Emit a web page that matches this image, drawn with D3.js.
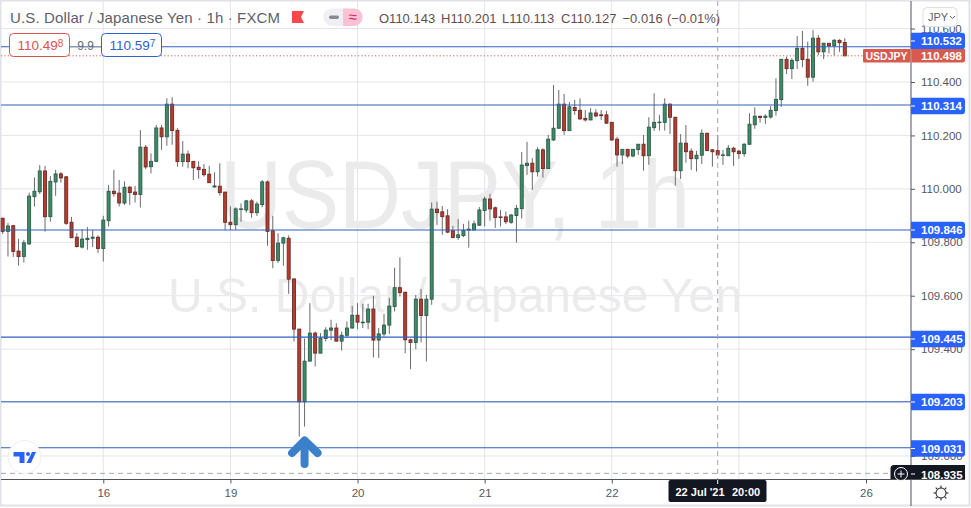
<!DOCTYPE html>
<html><head><meta charset="utf-8">
<script src="https://cdnjs.cloudflare.com/ajax/libs/d3/7.8.5/d3.min.js"></script>
<style>html,body{margin:0;padding:0;background:#fff;overflow:hidden}svg{display:block}text{font-family:"Liberation Sans",Arial,sans-serif}</style>
</head><body><svg id="c" width="971" height="508"></svg>
<script>
const opens=[109.890,109.841,109.862,109.767,109.747,109.794,109.971,109.989,110.067,109.896,
110.026,110.056,110.045,109.875,109.819,109.782,109.810,109.815,109.819,109.777,
109.881,109.991,109.984,109.947,110.006,109.988,109.979,110.156,110.083,110.103,
110.228,110.195,110.317,110.219,110.102,110.130,110.103,110.081,110.073,110.055,
110.007,110.010,109.988,109.875,109.866,109.924,109.921,109.955,109.911,109.941,
110.026,109.843,109.732,109.797,109.815,109.663,109.475,109.203,109.355,109.460,
109.385,109.440,109.471,109.479,109.430,109.452,109.479,109.527,109.500,109.501,
109.550,109.434,109.457,109.490,109.560,109.630,109.613,109.435,109.425,109.587,
109.526,109.587,109.924,109.914,109.899,109.843,109.818,109.825,109.846,109.846,
109.864,109.919,109.962,109.929,109.895,109.895,109.875,109.900,109.926,110.087,
110.096,110.064,110.146,110.076,110.183,110.227,110.317,110.218,110.305,110.294,
110.264,110.258,110.284,110.277,110.277,110.249,110.186,110.127,110.148,110.123,
110.147,110.167,110.124,110.229,110.248,110.249,110.317,110.268,110.068,110.171,
110.141,110.113,110.126,110.208,110.146,110.143,110.126,110.124,110.152,110.141,
110.132,110.167,110.240,110.272,110.267,110.269,110.293,110.334,110.485,110.450,
110.480,110.526,110.485,110.418,110.564,110.513,110.545,110.536,110.556,110.548];
const highs=[109.892,109.873,109.865,109.813,109.809,109.986,110.043,110.089,110.086,110.048,
110.071,110.063,110.048,109.895,109.834,109.849,109.857,109.846,109.826,109.899,
110.015,110.071,110.033,110.028,110.011,110.011,110.220,110.164,110.133,110.239,
110.239,110.339,110.343,110.227,110.179,110.143,110.103,110.103,110.093,110.086,
110.062,110.096,109.988,109.935,109.931,109.946,109.959,109.962,109.952,110.033,
110.031,109.899,109.834,109.821,109.826,109.663,109.476,109.440,109.572,109.466,
109.460,109.482,109.510,109.497,109.466,109.504,109.562,109.572,109.570,109.570,
109.600,109.479,109.532,109.592,109.705,109.744,109.615,109.439,109.603,109.625,
109.603,109.949,109.952,109.936,109.924,109.861,109.887,109.869,109.881,109.881,
109.932,109.971,109.981,109.934,109.921,109.915,109.906,109.940,110.138,110.176,
110.115,110.156,110.152,110.202,110.389,110.370,110.355,110.325,110.333,110.339,
110.295,110.302,110.298,110.295,110.292,110.249,110.195,110.149,110.149,110.149,
110.168,110.202,110.268,110.358,110.277,110.339,110.320,110.268,110.205,110.239,
110.152,110.142,110.223,110.210,110.148,110.201,110.146,110.164,110.158,110.146,
110.171,110.283,110.305,110.272,110.279,110.310,110.414,110.486,110.495,110.489,
110.572,110.591,110.551,110.595,110.576,110.547,110.546,110.561,110.560,110.564];
const lows=[109.831,109.747,109.745,109.713,109.724,109.790,109.934,109.981,109.840,109.877,
109.974,110.023,109.865,109.817,109.780,109.777,109.772,109.782,109.760,109.728,
109.859,109.971,109.934,109.940,109.940,109.949,109.930,110.074,110.058,110.102,
110.146,110.161,110.165,110.083,110.083,110.077,110.033,110.038,110.046,110.023,
110.005,109.975,109.846,109.846,109.846,109.877,109.911,109.892,109.899,109.931,
109.787,109.703,109.722,109.712,109.607,109.429,109.073,109.110,109.355,109.335,
109.385,109.429,109.433,109.429,109.395,109.444,109.477,109.475,109.479,109.475,
109.369,109.367,109.447,109.457,109.541,109.597,109.385,109.325,109.400,109.425,
109.354,109.566,109.865,109.828,109.834,109.814,109.809,109.819,109.780,109.845,
109.861,109.859,109.881,109.854,109.859,109.868,109.869,109.799,109.889,110.052,
109.996,110.046,110.042,110.075,110.179,110.224,110.202,110.217,110.277,110.258,
110.252,110.257,110.267,110.258,110.243,110.180,110.083,110.093,110.115,110.118,
110.127,110.068,110.090,110.217,110.218,110.218,110.205,110.012,110.037,110.098,
110.071,110.065,110.093,110.142,110.083,110.113,110.090,110.123,110.086,110.112,
110.121,110.164,110.225,110.248,110.243,110.263,110.274,110.307,110.430,110.411,
110.449,110.455,110.386,110.401,110.501,110.486,110.507,110.499,110.513,110.498];
const closes=[109.841,109.861,109.766,109.747,109.798,109.973,109.991,110.067,109.896,110.028,
110.056,110.041,109.871,109.817,109.784,109.812,109.815,109.819,109.777,109.883,
109.991,109.982,109.947,110.006,109.986,109.979,110.156,110.082,110.103,110.228,
110.195,110.317,110.218,110.102,110.130,110.102,110.079,110.072,110.053,110.023,
110.011,109.986,109.875,109.866,109.925,109.925,109.955,109.911,109.943,110.026,
109.841,109.732,109.797,109.817,109.662,109.475,109.203,109.355,109.460,109.385,
109.440,109.471,109.479,109.430,109.452,109.479,109.527,109.501,109.501,109.550,
109.434,109.457,109.490,109.561,109.630,109.612,109.435,109.425,109.587,109.526,
109.587,109.924,109.911,109.896,109.838,109.818,109.828,109.844,109.849,109.869,
109.921,109.962,109.925,109.893,109.893,109.877,109.902,109.927,110.089,110.096,
110.064,110.146,110.076,110.186,110.227,110.317,110.218,110.307,110.293,110.262,
110.258,110.284,110.273,110.274,110.246,110.183,110.127,110.148,110.123,110.148,
110.167,110.124,110.231,110.249,110.250,110.317,110.268,110.068,110.171,110.139,
110.113,110.126,110.208,110.143,110.139,110.127,110.127,110.152,110.139,110.132,
110.167,110.242,110.272,110.267,110.272,110.294,110.335,110.485,110.450,110.481,
110.526,110.484,110.418,110.564,110.513,110.545,110.536,110.556,110.547,110.498];
const levels=[110.532,110.314,109.846,109.445,109.203,109.031];
const levelLabels=["110.532","110.314","109.846","109.445","109.203","109.031"];
const priceTicks=[110.6,110.4,110.2,110.0,109.8,109.6,109.4,109.2,109.0];
const dayTicks=[19,43,67,91,115,139,163];
const dayLabels=["16","19","20","21","22","","26"];
const lastPrice=110.498, crossPrice=108.935, crossIndex=135;
const ohlcItems=["O110.143","H110.201","L110.113","C110.127","\u22120.016","(\u22120.01%)"];

const W=971,H=508,axisX=911,axisY=479.5;
const svg=d3.select("#c");
const x=d3.scaleLinear().domain([0,163]).range([2.66,866]);
const y=d3.scaleLinear().domain([110.4,109.0]).range([82,456]);
const grid="#e3e5ea", blue="#3060bd", wick="#6b6b6b";

svg.append("rect").attr("x",.5).attr("y",.5).attr("width",W-2).attr("height",H-3).attr("fill","#fff").attr("stroke","#e0e2e8").attr("stroke-width",2);
// grid
const g=svg.append("g");
g.selectAll(".v").data(dayTicks).join("line").attr("x1",d=>x(d)).attr("x2",d=>x(d)).attr("y1",1).attr("y2",axisY).attr("stroke",grid);
g.selectAll(".h").data(priceTicks).join("line").attr("x1",1).attr("x2",axisX).attr("y1",d=>y(d)).attr("y2",d=>y(d)).attr("stroke",grid);
// watermark
svg.append("text").attr("x",220).attr("y",228).attr("font-size",97).attr("textLength",470).attr("lengthAdjust","spacingAndGlyphs").attr("fill","#ebebec").text("USDJPY, 1h");
svg.append("text").attr("x",168).attr("y",312).attr("font-size",48).attr("textLength",574).attr("lengthAdjust","spacingAndGlyphs").attr("fill","#ebebec").text("U.S. Dollar / Japanese Yen");
// candles
const idx=d3.range(opens.length);
const up=i=>closes[i]>=opens[i];
svg.append("g").selectAll("line").data(idx).join("line")
 .attr("x1",i=>x(i)).attr("x2",i=>x(i)).attr("y1",i=>y(highs[i])).attr("y2",i=>y(lows[i])).attr("stroke",wick).attr("stroke-width",1);
svg.append("g").selectAll("rect").data(idx).join("rect")
 .attr("x",i=>x(i)-1.5).attr("width",3)
 .attr("y",i=>y(Math.max(opens[i],closes[i])))
 .attr("height",i=>Math.max(.6,Math.abs(y(opens[i])-y(closes[i]))))
 .attr("fill",i=>up(i)?"#3f8a69":"#b53c2f").attr("stroke",i=>up(i)?"#2a5c47":"#6e2a24").attr("stroke-width",.9);
// levels
svg.append("g").selectAll("line").data(levels).join("line").attr("x1",1).attr("x2",axisX).attr("y1",d=>y(d)).attr("y2",d=>y(d)).attr("stroke",blue).attr("stroke-width",1.1);
// last price dotted
svg.append("line").attr("x1",1).attr("x2",864).attr("y1",y(lastPrice)).attr("y2",y(lastPrice)).attr("stroke","#b5635c").attr("stroke-dasharray","1.2 2.2");
// crosshair
svg.append("line").attr("x1",1).attr("x2",891).attr("y1",y(crossPrice)).attr("y2",y(crossPrice)).attr("stroke","#a5a7ad").attr("stroke-dasharray","5 4");
svg.append("line").attr("x1",x(crossIndex)).attr("x2",x(crossIndex)).attr("y1",1).attr("y2",axisY).attr("stroke","#a5a7ad").attr("stroke-dasharray","5 4");
// arrow
const arrow=svg.append("g").attr("fill","none").attr("stroke","#3b80cb").attr("stroke-width",8).attr("stroke-linecap","round").attr("stroke-linejoin","round");
arrow.append("path").attr("d",d3.line()([[x(57),464],[x(57),441]]));
arrow.append("path").attr("d",d3.line()([[x(57)-12.5,453],[x(57),440.5],[x(57)+13,453]]));
// logo
svg.append("circle").attr("cx",24.5).attr("cy",457).attr("r",16.5).attr("fill","#fff").attr("stroke","#eceef2");
svg.append("path").attr("fill","#2962ff").attr("d","M13.5 452h11v11h-5v-6.5h-6zM32 452h4l-5 11h-4.5z");
svg.append("circle").attr("cx",28).attr("cy",454).attr("r",2).attr("fill","#2962ff");
// header
svg.append("text").attr("x",10).attr("y",23).attr("font-size",15).attr("textLength",270).attr("fill","#5e616b").text("U.S. Dollar / Japanese Yen \u00b7 1h \u00b7 FXCM");
svg.append("path").attr("fill","#f7484a").attr("d","M292 11h12l-3 6l3 6h-12z");
svg.append("path").attr("fill","#eff0f3").attr("d","M343 8.5h-11a8.7 8.7 0 0 0 0 17.4h11z");
svg.append("path").attr("fill","#fbc2d3").attr("d","M343 8.5h11a8.7 8.7 0 0 1 0 17.4h-11z");
svg.append("rect").attr("x",329).attr("y",15.5).attr("width",10).attr("height",3.4).attr("rx",1.7).attr("fill","#888b94");
svg.append("text").attr("x",352.5).attr("y",22).attr("text-anchor","middle").attr("font-size",15).attr("fill","#d8246c").text("\u2248");
const ohlcX=[379,441,502,561,622.5,667];
svg.append("g").selectAll("text").data(ohlcItems).join("text").attr("x",(d,i)=>ohlcX[i]).attr("y",23).attr("font-size",13).attr("fill","#6a4b50").text(d=>d);
// price boxes
function priceBox(bx,main,sup,col){
 svg.append("rect").attr("x",bx).attr("y",33.5).attr("width",60).attr("height",23).attr("rx",4).attr("fill","#fff").attr("stroke",col);
 const t=svg.append("text").attr("x",bx+8).attr("y",50).attr("font-size",13.5).attr("fill",col);
 t.append("tspan").text(main);
 t.append("tspan").attr("font-size",10).attr("dy",-3).text(sup);
}
svg.append("line").attr("x1",70).attr("x2",102).attr("y1",y(levels[0])).attr("y2",y(levels[0])).attr("stroke","#9a9da6");
svg.append("text").attr("x",85.5).attr("y",50).attr("text-anchor","middle").attr("font-size",12).attr("fill","#6b6e78").text("9.9");
priceBox(9.5,"110.49","8","#d9534f");
priceBox(101.5,"110.59","7","#2f62d0");
// axes
const yAxis=d3.axisRight(y).tickValues(priceTicks).tickFormat(d3.format(".3f")).tickSize(4).tickPadding(6);
const ya=svg.append("g").attr("transform",`translate(${axisX},0)`).call(yAxis);
const xAxis=d3.axisBottom(x).tickValues(dayTicks).tickFormat((d,i)=>dayLabels[i]).tickSize(4).tickPadding(5);
const xa=svg.append("g").attr("transform",`translate(0,${axisY})`).call(xAxis);
[ya,xa].forEach(a=>{a.select(".domain").remove();a.selectAll("text").attr("font-size",11.5).attr("font-family",'"Liberation Sans",Arial,sans-serif').attr("fill","#555861");a.selectAll("line").attr("stroke","#555861");});
svg.append("line").attr("x1",1).attr("x2",965).attr("y1",axisY).attr("y2",axisY).attr("stroke","#50535e");
svg.append("line").attr("x1",axisX).attr("x2",axisX).attr("y1",1).attr("y2",506).attr("stroke","#50535e");
// JPY button
svg.append("rect").attr("x",923).attr("y",7.5).attr("width",34).attr("height",19).attr("rx",4).attr("fill","#fff").attr("stroke","#dfe1e6");
svg.append("text").attr("x",928).attr("y",21).attr("font-size",11).attr("fill","#5e616b").text("JPY");
svg.append("path").attr("fill","none").attr("stroke","#5e616b").attr("d","M950 16l2.5 2.5l2.5-2.5");
// level tags
const tagCy=[41,106,230,339,402,448.5];
const tags=svg.append("g").selectAll("g").data(levelLabels).join("g").attr("transform",(d,i)=>`translate(${axisX},${tagCy[i]})`);
tags.append("path").attr("fill","#2962ff").attr("d","M0 -8.3H51a3 3 0 0 1 3 3V5.3a3 3 0 0 1 -3 3H0z");
tags.append("line").attr("x2",4).attr("stroke","#fff");
tags.append("text").attr("x",10).attr("y",4).attr("font-size",11.5).attr("font-weight","bold").attr("fill","#fff").text(d=>d);
// last tag
svg.append("rect").attr("x",863).attr("y",49).attr("width",47.5).attr("height",13.5).attr("rx",1).attr("fill","#d85a4c");
svg.append("text").attr("x",886.5).attr("y",60).attr("text-anchor","middle").attr("font-size",10.5).attr("font-weight","bold").attr("fill","#fff").text("USDJPY");
svg.append("path").attr("fill","#d85a4c").attr("d","M911.5 49H965V60a2.5 2.5 0 0 1 -2.5 2.5H911.5z");
svg.append("text").attr("x",921).attr("y",60).attr("font-size",11.5).attr("font-weight","bold").attr("fill","#fff").text("110.498");
// crosshair tags
svg.append("path").attr("fill","#131722").attr("d","M894 465H965V479H890.5V468.5a3.5 3.5 0 0 1 3.5-3.5z");
svg.append("circle").attr("cx",901).attr("cy",474).attr("r",6.5).attr("fill","#131722").attr("stroke","#fff");
svg.append("path").attr("stroke","#fff").attr("d","M897.5 474h7M901 470.5v7");
svg.append("line").attr("x1",axisX).attr("x2",915).attr("y1",474).attr("y2",474).attr("stroke","#fff");
svg.append("text").attr("x",921).attr("y",478.5).attr("font-size",11.5).attr("font-weight","bold").attr("fill","#fff").text("108.935");
svg.append("rect").attr("x",668.5).attr("y",480).attr("width",98).attr("height",22).attr("rx",2).attr("fill","#131722");
svg.append("line").attr("x1",x(crossIndex)).attr("x2",x(crossIndex)).attr("y1",480).attr("y2",484).attr("stroke","#fff");
svg.append("text").attr("x",675.5).attr("y",496).attr("font-size",11).attr("font-weight","bold").attr("fill","#fff").text("22 Jul '21");
svg.append("text").attr("x",732).attr("y",496).attr("font-size",11).attr("font-weight","bold").attr("fill","#fff").text("20:00");
// settings icon
const sun=svg.append("g").attr("transform","translate(941,493)").attr("stroke","#1a1d26").attr("fill","none");
sun.append("circle").attr("r",5);
sun.selectAll("line").data(d3.range(8)).join("line").attr("y1",-5).attr("y2",-7.5).attr("transform",d=>`rotate(${d*45})`);
</script></body></html>
